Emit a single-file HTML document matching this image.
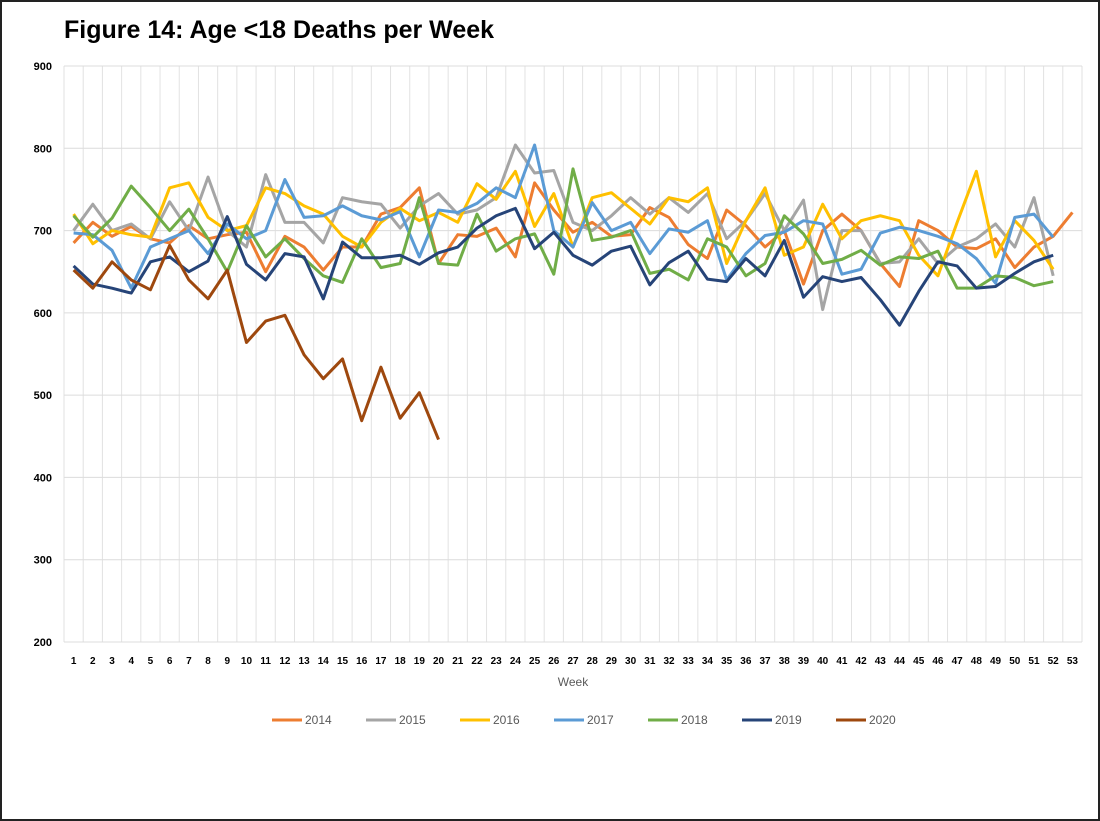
<!DOCTYPE html>
<html><head><meta charset="utf-8"><style>
body{margin:0;background:#fff;}
#wrap{position:relative;width:1096px;height:817px;border:2px solid #222;overflow:hidden;background:#fff;font-family:"Liberation Sans",sans-serif;}
#title{position:absolute;left:62px;top:14px;font-size:25px;font-weight:bold;color:#000;}
</style></head><body>
<div id="wrap">
<div id="title">Figure 14: Age &lt;18 Deaths per Week</div>
<svg id="chart" width="1096" height="817" style="position:absolute;left:0;top:0"></svg>
</div>
<script>
const yTicks=[200,300,400,500,600,700,800,900];
const weeks=Array.from({length:53},(_,i)=>i+1);
const years=["2014","2015","2016","2017","2018","2019","2020"];
const colors=["#ED7D31","#A5A5A5","#FFC000","#5B9BD5","#70AD47","#264478","#9E480E"];
const s2014=[685,710,693,705,690,685,706,690,695,698,650,693,680,652,680,680,720,728,752,660,695,693,703,668,758,725,698,710,693,695,728,716,683,666,725,706,680,700,635,700,720,700,660,632,712,700,680,678,690,655,680,693,722];
const s2015=[700,732,700,708,690,735,700,765,700,680,768,710,710,685,740,735,732,703,730,745,720,725,740,804,770,773,710,700,718,740,720,740,722,745,690,712,745,700,737,604,700,700,660,662,690,660,680,690,708,680,740,645];
const s2016=[720,684,700,695,692,752,758,716,700,706,752,745,730,720,693,680,710,727,712,722,710,757,738,772,705,745,680,740,746,727,708,740,735,752,660,712,752,670,680,732,690,712,718,712,670,645,710,772,668,712,688,653];
const s2017=[697,695,676,630,680,690,700,672,708,690,700,762,716,718,730,718,713,723,668,725,722,733,752,740,804,700,680,734,700,710,672,702,698,712,640,672,694,698,712,708,647,653,697,704,700,693,684,666,636,716,720,692];
const s2018=[718,692,715,754,728,700,726,690,650,706,668,690,666,645,637,690,655,660,740,660,658,720,675,690,696,647,775,688,692,700,648,653,640,690,680,645,660,718,696,660,665,676,658,668,666,675,630,630,645,643,633,638];
const s2019=[657,635,630,624,662,668,650,663,717,659,640,672,668,617,686,667,667,670,659,673,680,703,718,727,678,698,670,658,675,681,634,661,675,641,638,666,645,688,619,644,638,643,616,585,626,662,657,630,632,648,662,670];
const s2020=[652,630,662,640,628,682,640,617,652,564,590,597,549,520,544,469,534,472,503,446];
const seriesList=[s2014,s2015,s2016,s2017,s2018,s2019,s2020];

const svg=document.getElementById('chart');const NS='http://www.w3.org/2000/svg';
const L=62,R=1080,T=64,B=640;
const x=w=>L+(R-L)*(w-0.5)/53;
const y=v=>B-(v-200)/700*(B-T);
function mk(t,a,txt){const e=document.createElementNS(NS,t);for(const k in a)e.setAttribute(k,a[k]);if(txt!=null)e.textContent=txt;svg.appendChild(e);return e;}
for(let i=0;i<=53;i++){const e=mk('line',{x1:L+(R-L)*i/53,x2:L+(R-L)*i/53,y1:T,y2:B,stroke:'#e2e2e2','stroke-width':1});

}
yTicks.forEach(v=>{const g=mk('line',{x1:L,x2:R,y1:y(v),y2:y(v),stroke:'#dcdcdc','stroke-width':1});


const t=mk('text',{x:L-12,y:y(v)+4,'text-anchor':'end','font-size':11,'font-weight':'bold',fill:'#000'},v);

});
weeks.forEach(w=>{const t=mk('text',{x:x(w),y:662,'text-anchor':'middle','font-size':10,'font-weight':'bold',fill:'#000'},w);

});
const xt=mk('text',{x:(L+R)/2,y:684,'text-anchor':'middle','font-size':12,fill:'#595959'},'Week');


seriesList.forEach((s,i)=>{const p=mk('polyline',{points:s.map((v,j)=>x(j+1)+','+y(v)).join(' '),fill:'none',stroke:colors[i],'stroke-width':3,'stroke-linejoin':'round'});

});
years.forEach((yr,i)=>{const lx=270+i*94;
const l=mk('line',{x1:lx,x2:lx+30,y1:718,y2:718,stroke:colors[i],'stroke-width':3});


const t=mk('text',{x:lx+33,y:722,'font-size':12,fill:'#595959'},yr);

});
</script>
</body></html>
